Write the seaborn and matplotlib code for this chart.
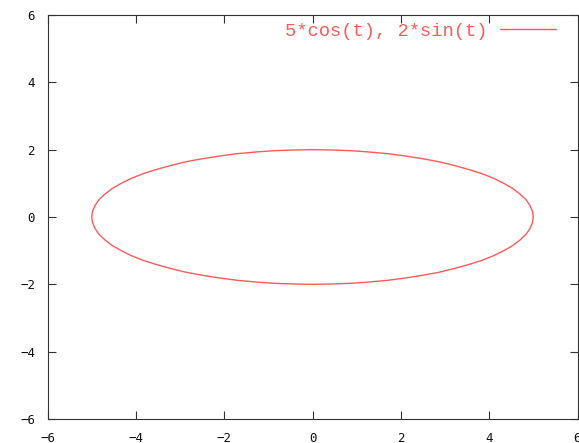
import matplotlib
matplotlib.use("Agg")
import matplotlib.pyplot as plt
import seaborn as sns
import pandas as pd

# Points (x = 5cos t, y = 2sin t), every 5 degrees
x_vals = [5.00, 4.98, 4.92, 4.83, 4.70, 4.53, 4.33, 4.10, 3.83, 3.54, 3.21, 2.87, 2.50, 2.11, 1.71, 1.29, 0.87, 0.44, 0.00,
          -0.44, -0.87, -1.29, -1.71, -2.11, -2.50, -2.87, -3.21, -3.54, -3.83, -4.10, -4.33, -4.53, -4.70, -4.83, -4.92, -4.98, -5.00,
          -4.98, -4.92, -4.83, -4.70, -4.53, -4.33, -4.10, -3.83, -3.54, -3.21, -2.87, -2.50, -2.11, -1.71, -1.29, -0.87, -0.44, 0.00,
          0.44, 0.87, 1.29, 1.71, 2.11, 2.50, 2.87, 3.21, 3.54, 3.83, 4.10, 4.33, 4.53, 4.70, 4.83, 4.92, 4.98, 5.00]
y_vals = [0.00, 0.17, 0.35, 0.52, 0.68, 0.85, 1.00, 1.15, 1.29, 1.41, 1.53, 1.64, 1.73, 1.81, 1.88, 1.93, 1.97, 1.99, 2.00,
          1.99, 1.97, 1.93, 1.88, 1.81, 1.73, 1.64, 1.53, 1.41, 1.29, 1.15, 1.00, 0.85, 0.68, 0.52, 0.35, 0.17, 0.00,
          -0.17, -0.35, -0.52, -0.68, -0.85, -1.00, -1.15, -1.29, -1.41, -1.53, -1.64, -1.73, -1.81, -1.88, -1.93, -1.97, -1.99, -2.00,
          -1.99, -1.97, -1.93, -1.88, -1.81, -1.73, -1.64, -1.53, -1.41, -1.29, -1.15, -1.00, -0.85, -0.68, -0.52, -0.35, -0.17, 0.00]
series_label = "5*cos(t), 2*sin(t)"
x_ticks = [-6, -4, -2, 0, 2, 4, 6]
y_ticks = [-6, -4, -2, 0, 2, 4, 6]

df = pd.DataFrame({"x": x_vals, "y": y_vals})

sns.set_style("white")
plt.rcParams["font.family"] = ["DejaVu Sans Mono", "DejaVu Sans"]

fig = plt.figure(figsize=(5.79, 4.43), dpi=100)
ax = fig.add_axes([47.5 / 579, 1 - 419 / 443, 530 / 579, 404 / 443])

line_color = "#ff5a5a"
sns.lineplot(data=df, x="x", y="y", sort=False, estimator=None,
             color=line_color, linewidth=1.0, label=series_label, ax=ax)

ax.set_xlim(-6, 6)
ax.set_ylim(-6, 6)
ax.set_xticks(x_ticks)
ax.set_yticks(y_ticks)
ax.set_xticklabels([str(v).replace("-", "\u2212") for v in x_ticks])
ax.set_yticklabels([str(v).replace("-", "\u2212") for v in y_ticks])
ax.set_xlabel("")
ax.set_ylabel("")

for sp in ax.spines.values():
    sp.set_visible(True)
    sp.set_color("#333333")
    sp.set_linewidth(0.8)

ax.tick_params(axis="both", which="major", direction="in", length=6, width=0.8,
               color="#333333", labelsize=9, labelcolor="#111111",
               top=True, right=True, bottom=True, left=True, pad=9)

leg = ax.legend(loc="center right", bbox_to_anchor=((556 - 47.5) / 530, 1 - (31 - 15) / 404),
                frameon=False, markerfirst=False, borderaxespad=0, borderpad=0,
                handlelength=3.0, handletextpad=0.65,
                prop={"family": "Liberation Mono", "size": 13.5})
for t in leg.get_texts():
    t.set_color(line_color)

fig.savefig("out.png", dpi=100)
